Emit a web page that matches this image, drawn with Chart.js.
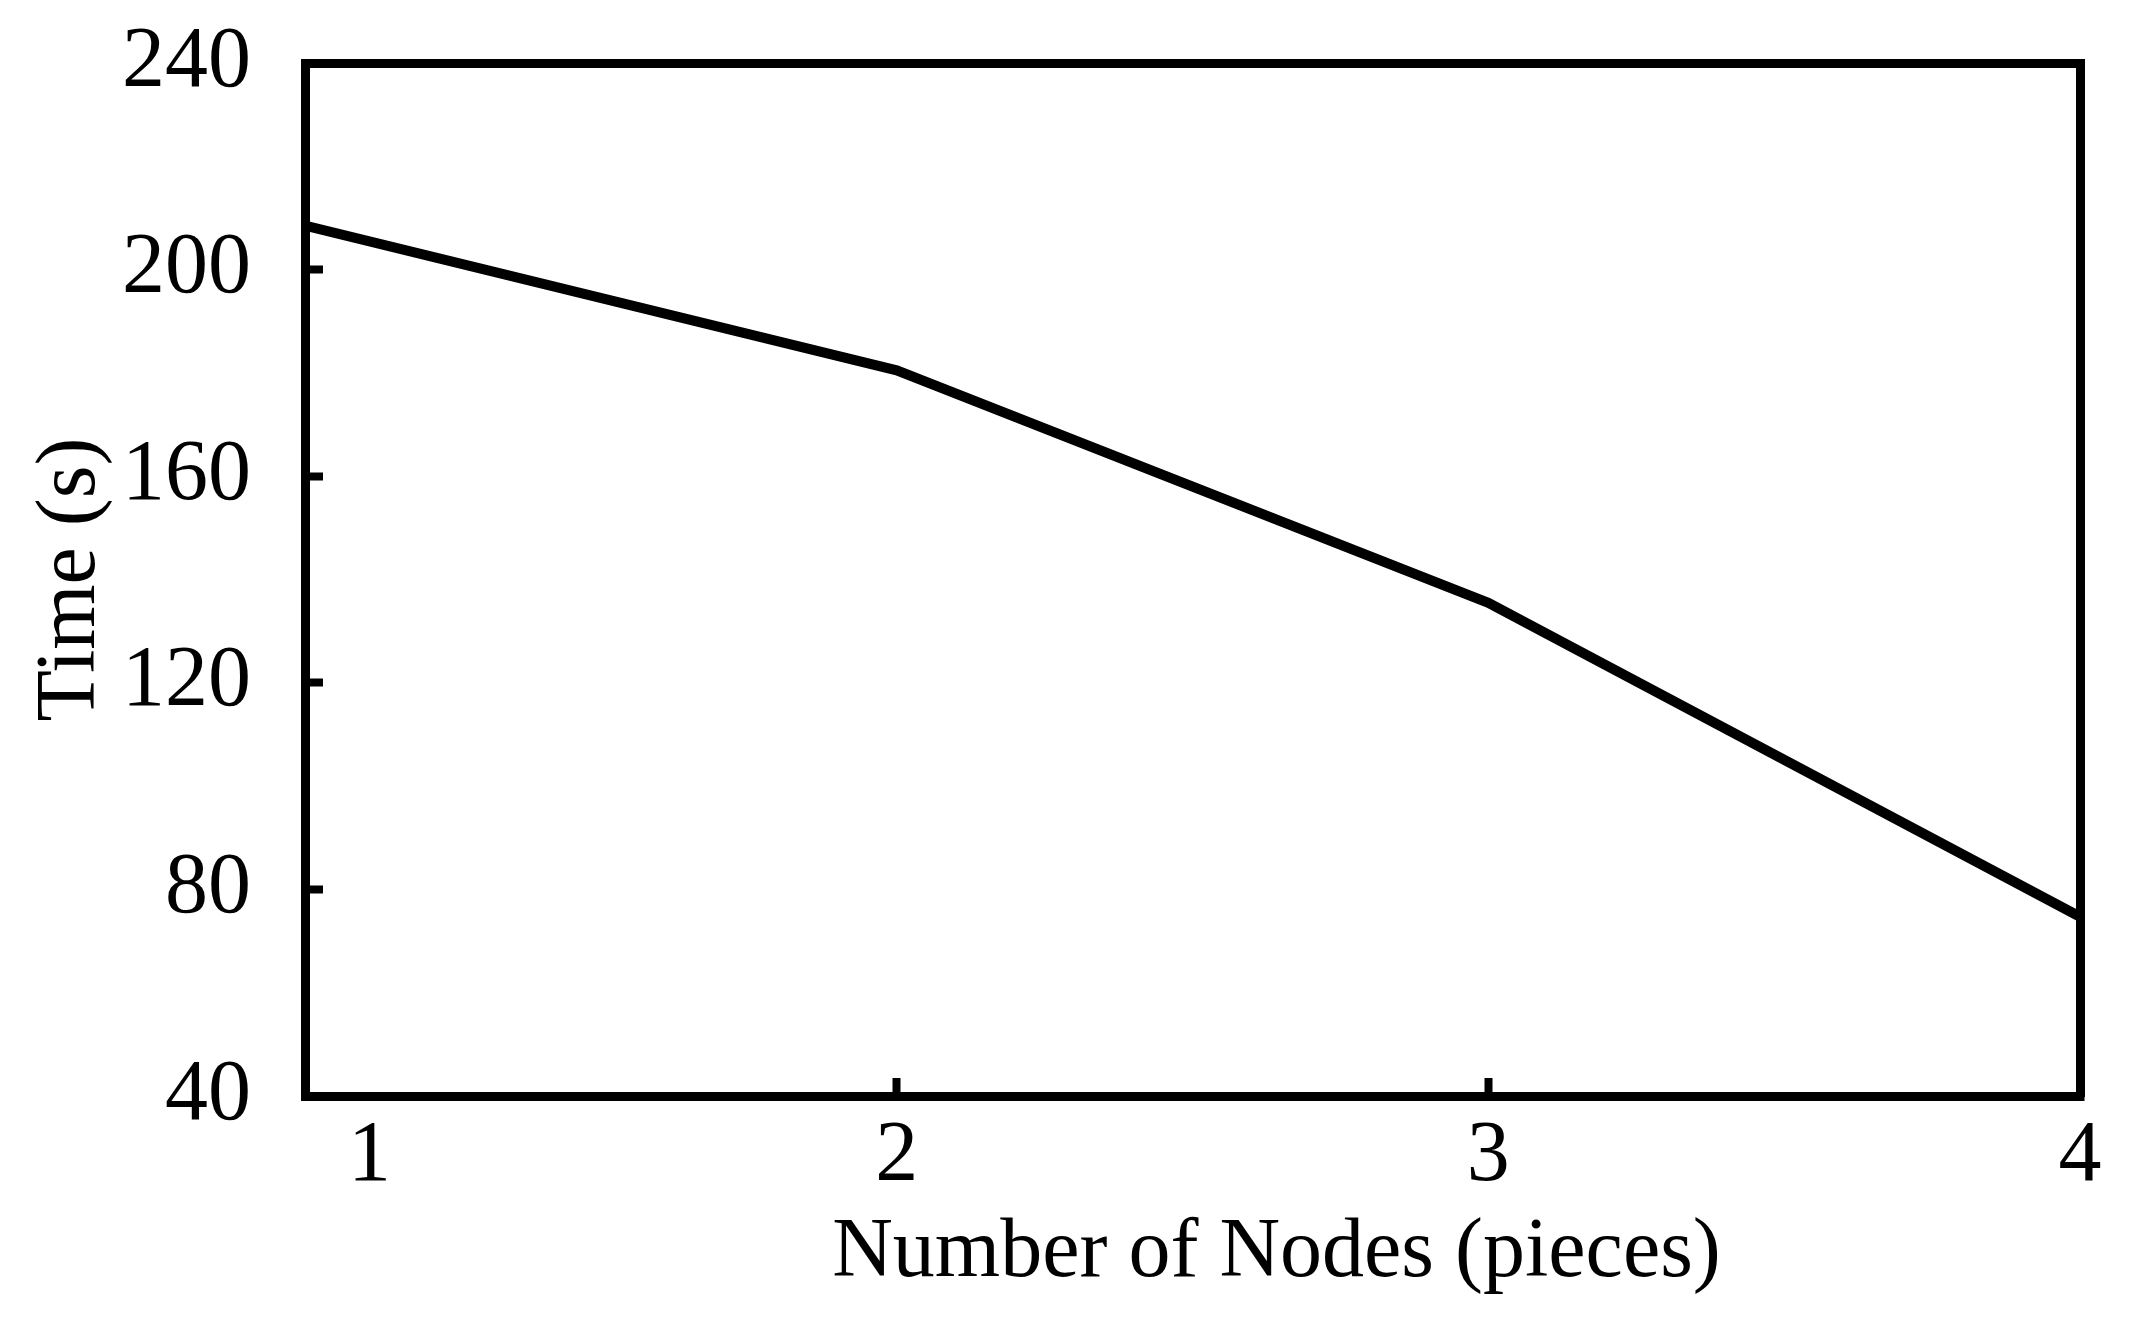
<!DOCTYPE html>
<html>
<head>
<meta charset="utf-8">
<script src="https://cdn.jsdelivr.net/npm/chart.js@4.4.1/dist/chart.umd.min.js"></script>
<style>
  html, body { margin: 0; padding: 0; background: #fff; }
  #wrap { width: 2140px; height: 1327px; }
</style>
</head>
<body>
<div id="wrap"><canvas id="timeChart" width="2140" height="1327"></canvas></div>
<script>
const nodes = [1, 2, 3, 4];
const times = [208.5, 180.5, 135.5, 74.7];
const xTickLabels = ["1", "2", "3", "4"];
const yTicks = [40, 80, 120, 160, 200, 240];

(() => {
  const ctx = document.getElementById("timeChart");
  if (!ctx || typeof Chart === "undefined") return;

  const serif = "'Liberation Serif', 'Times New Roman', serif";
  const ink = "#000";
  const frame = { display: true, color: ink, width: 9 };
  const hidden = { display: false };

  new Chart(ctx, {
    type: "line",
    data: {
      datasets: [{
        data: nodes.map((n, i) => ({ x: n, y: times[i] })),
        borderColor: ink,
        borderWidth: 10,
        pointRadius: 0,
        tension: 0,
        fill: false
      }]
    },
    options: {
      responsive: false,
      animation: false,
      layout: { padding: { top: 0, right: 60, bottom: 0, left: 0 } },
      plugins: { legend: { display: false }, tooltip: { enabled: false } },
      scales: {
        x: {
          type: "linear",
          position: "bottom",
          min: 1,
          max: 4,
          afterFit: s => { s.height = 231; },
          afterBuildTicks: s => { s.ticks = nodes.map(v => ({ value: v })); },
          border: frame,
          grid: { drawOnChartArea: false, color: ink, tickLength: -18, tickWidth: 8 },
          ticks: {
            color: ink,
            padding: 28,
            maxRotation: 0,
            font: { family: serif, size: 86 },
            callback: v => {
              const lab = xTickLabels[nodes.indexOf(v)];
              return v === 1 ? "\u2002\u2002\u2002" + lab : lab;
            }
          },
          title: {
            display: true,
            text: "\u2002\u2002\u2002\u2002Number of Nodes (pieces)",
            color: ink,
            font: { family: serif, size: 84 },
            padding: { top: 0, bottom: 23 }
          }
        },
        y: {
          min: 40,
          max: 240,
          position: "left",
          afterFit: s => { s.width = 305; s.paddingTop = 63; s.paddingBottom = 0; },
          afterBuildTicks: s => { s.ticks = yTicks.map(v => ({ value: v })); },
          border: frame,
          grid: { drawOnChartArea: false, color: ink, tickLength: -18, tickWidth: 8 },
          ticks: { color: ink, padding: 72, font: { family: serif, size: 86 } },
          title: {
            display: true,
            text: "Time (s)",
            color: ink,
            font: { family: serif, size: 84 },
            padding: { top: 22, bottom: 0 }
          }
        },
        top: {
          position: "top",
          afterFit: s => { s.height = 0; },
          border: frame,
          grid: { display: false, drawTicks: false },
          ticks: hidden
        },
        right: {
          position: "right",
          afterFit: s => { s.width = 0; },
          border: frame,
          grid: { display: false, drawTicks: false },
          ticks: hidden
        }
      }
    }
  });
})();
</script>
</body>
</html>
